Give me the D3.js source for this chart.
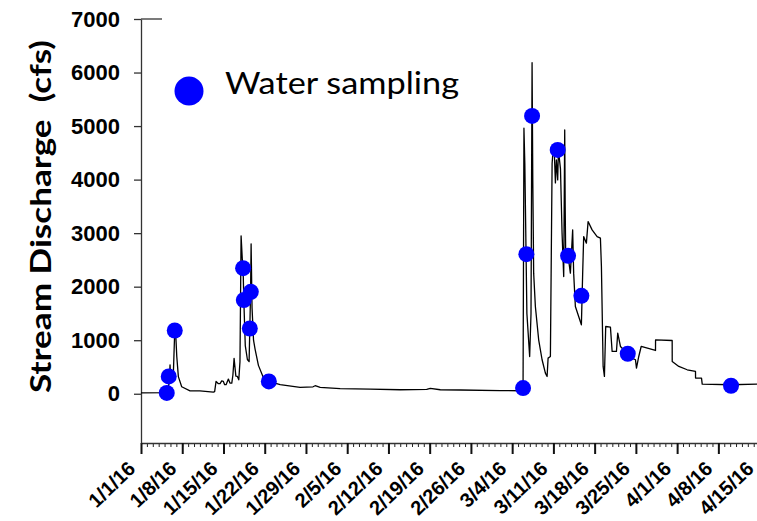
<!DOCTYPE html>
<html>
<head>
<meta charset="utf-8">
<script src="https://cdn.jsdelivr.net/npm/d3@7"></script>
<style>
  body { margin: 0; background: #fff; }
  svg { display: block; }
</style>
</head>
<body>
<svg width="757" height="521"></svg>
<script>
// Afstrømning: dage efter 1/1/16 og vandføring i cfs
const flowDay = [0, 4.3, 4.8, 4.93, 5.0, 5.5, 5.73, 5.9, 6.07, 6.34, 6.91, 8.32, 10, 12.28, 12.5, 12.74, 13.1, 13.42, 13.7, 13.98,
  14.2, 14.44, 14.83, 15.1, 15.41, 15.6, 15.8, 16.1, 16.36, 16.6, 16.8, 16.99, 17.2, 17.33, 17.45, 17.7, 18.06, 18.35, 18.47, 18.6,
  18.69, 18.85, 19.1, 19.37, 19.93, 20.78, 21.63, 21.7, 23.62, 27, 29.2, 29.56, 30.41, 33.8, 38.9, 44, 48.5, 49.1, 50.8, 54.2,
  61, 64.56, 64.85, 65.0, 65.15, 65.25, 65.5, 65.97, 66.2, 66.38, 66.5, 66.65, 66.94, 67.5, 68.08, 68.64, 68.93, 69.1, 69.49, 69.78,
  69.91, 70.17, 70.34, 70.51, 70.73, 70.85, 71.2, 71.47, 71.75, 71.92, 72.0, 72.09, 72.49, 72.88, 73.27, 73.44, 73.73, 74.29, 74.75, 74.97,
  75.14, 75.6, 75.89, 76.57, 77.42, 77.98, 78.15, 78.44, 78.66, 78.88, 79.68, 79.97, 80.7, 80.92, 81.38, 82.62, 83.37, 83.93, 84.1, 84.49,
  84.9, 87.33, 87.34, 90.16, 90.17, 91.29, 92.71, 94.12, 94.13, 95.14, 95.26, 100.07, 104.66, 105];
const flowCfs = [15, 20, 200, 540, 350, 400, 1190, 1100, 700, 320, 130, 55, 55, 30, 40, 230, 190, 190, 240, 230,
  170, 170, 274, 200, 200, 350, 660, 330, 323, 260, 600, 2950, 2500, 2346, 1749, 900, 640, 600, 1219, 1904,
  2800, 1600, 1000, 830, 530, 300, 230, 230, 170, 120, 130, 150, 118, 95, 85, 75, 80, 100, 75, 70,
  60, 56, 106, 4960, 4300, 3500, 1500, 696, 1500, 6184, 4000, 2253, 1630, 1008, 635, 386, 323, 666, 696, 4300,
  4499, 4461, 3939, 4368, 3995, 4555, 4200, 3000, 2190, 4928, 3500, 2563, 2576, 2253, 3061, 2253, 1630, 1443, 1288, 2253,
  2936, 2813, 3216, 3061, 2936, 2906, 2376, 510, 323, 1256, 1245, 790, 790, 1133, 883, 747, 666, 635, 480, 696,
  883, 808, 1008, 995, 603, 510, 448, 416, 293, 293, 181, 168, 181, 181];

// Vandprøver
const sampleDay = [4.37, 4.71, 5.73, 17.33, 17.45, 18.64, 18.47, 21.7, 64.85, 65.41, 66.38, 70.73, 72.49, 74.75, 82.62, 100.15];
const sampleCfs = [15, 323, 1182, 2346, 1749, 1904, 1219, 230, 106, 2608, 5190, 4555, 2576, 1829, 747, 149];

// Aksemærker
const dateTicks = ["1/1/16", "1/8/16", "1/15/16", "1/22/16", "1/29/16", "2/5/16", "2/12/16", "2/19/16",
  "2/26/16", "3/4/16", "3/11/16", "3/18/16", "3/25/16", "4/1/16", "4/8/16", "4/15/16"];
const yTicks = [0, 1000, 2000, 3000, 4000, 5000, 6000, 7000];

const parse = d3.utcParse("%m/%d/%y");
const start = parse("1/1/16");
const toDate = d => new Date(start.getTime() + d * 864e5);

const svg = d3.select("svg");

// Skalaer
const x = d3.scaleUtc()
  .domain([start, parse("4/15/16")])
  .range([141, 759.6]);

const y = d3.scaleLinear()
  .domain([-920, 7000])
  .range([443, 19]);

// Små dagsmærker på x-aksen
svg.append("g")
  .attr("transform", `translate(0,${y(-920)})`)
  .call(d3.axisBottom(x).tickValues(d3.utcDay.range(start, parse("4/16/16"))).tickSize(4).tickFormat("").tickSizeOuter(0))
  .call(g => g.select(".domain").remove())
  .selectAll("line").attr("stroke", "#222").attr("stroke-width", 1);

// X-akse med ugemærker
const xAxis = svg.append("g")
  .attr("transform", `translate(0,${y(-920)})`)
  .call(d3.axisBottom(x).tickValues(dateTicks.map(parse)).tickSize(11).tickSizeOuter(0)
    .tickFormat(d3.utcFormat("%-m/%-d/%y")));
xAxis.select(".domain").attr("stroke", "#333").attr("stroke-width", 1.3);
xAxis.selectAll(".tick line").attr("stroke", "#111").attr("stroke-width", 2);
xAxis.selectAll("text")
  .attr("y", null)
  .attr("dy", null)
  .attr("transform", "translate(-5,27) rotate(-44)")
  .style("text-anchor", "end")
  .style("font-family", "'Liberation Sans', Arial, sans-serif")
  .style("font-weight", "bold")
  .style("font-size", "20px")
  .attr("fill", "#000");

// Y-akse
const yAxis = svg.append("g")
  .attr("transform", "translate(141,0)")
  .call(d3.axisLeft(y).tickValues(yTicks).tickSize(7).tickPadding(14).tickSizeOuter(0)
    .tickFormat(d3.format("d")));
yAxis.select(".domain").attr("stroke", "#333").attr("stroke-width", 1.3);
yAxis.selectAll(".tick line").attr("stroke", "#333").attr("stroke-width", 1.3);
yAxis.selectAll("text")
  .style("font-family", "'Liberation Sans', Arial, sans-serif")
  .style("font-weight", "bold")
  .style("font-size", "22px")
  .attr("fill", "#000");

// Kort streg i toppen ved 7000
svg.append("line")
  .attr("x1", 141).attr("x2", 162)
  .attr("y1", y(7000)).attr("y2", y(7000))
  .attr("stroke", "#333").attr("stroke-width", 1.3);

// Y-aksetitel
svg.append("text")
  .attr("transform", `translate(51,${(40 + 393) / 2}) rotate(-90)`)
  .attr("text-anchor", "middle")
  .attr("textLength", 353)
  .attr("lengthAdjust", "spacingAndGlyphs")
  .style("white-space", "pre")
  .style("font-family", "Lato, 'Open Sans', sans-serif")
  .style("font-weight", "bold")
  .style("font-size", "28px")
  .text("Stream Discharge  (cfs)");

// Linjen for vandføring
const flow = flowDay.map((d, i) => ({ date: toDate(d), cfs: flowCfs[i] }));
const line = d3.line()
  .x(d => x(d.date))
  .y(d => y(d.cfs));

svg.append("path")
  .datum(flow)
  .attr("d", line)
  .attr("fill", "none")
  .attr("stroke", "#000")
  .attr("stroke-width", 1.3)
  .attr("stroke-linejoin", "round");

// Punkter for vandprøver
const samples = sampleDay.map((d, i) => ({ date: toDate(d), cfs: sampleCfs[i] }));
svg.append("g")
  .selectAll("circle")
  .data(samples)
  .join("circle")
  .attr("cx", d => x(d.date))
  .attr("cy", d => y(d.cfs))
  .attr("r", 8)
  .attr("fill", "#0000ff");

// Forklaring
svg.append("circle")
  .attr("cx", 189).attr("cy", 91)
  .attr("r", 14.5)
  .attr("fill", "#0000ff");
svg.append("text")
  .attr("x", 225).attr("y", 94)
  .attr("textLength", 234)
  .attr("lengthAdjust", "spacingAndGlyphs")
  .style("font-family", "Lato, 'Open Sans', sans-serif")
  .style("font-size", "31px")
  .text("Water sampling");
</script>
</body>
</html>
